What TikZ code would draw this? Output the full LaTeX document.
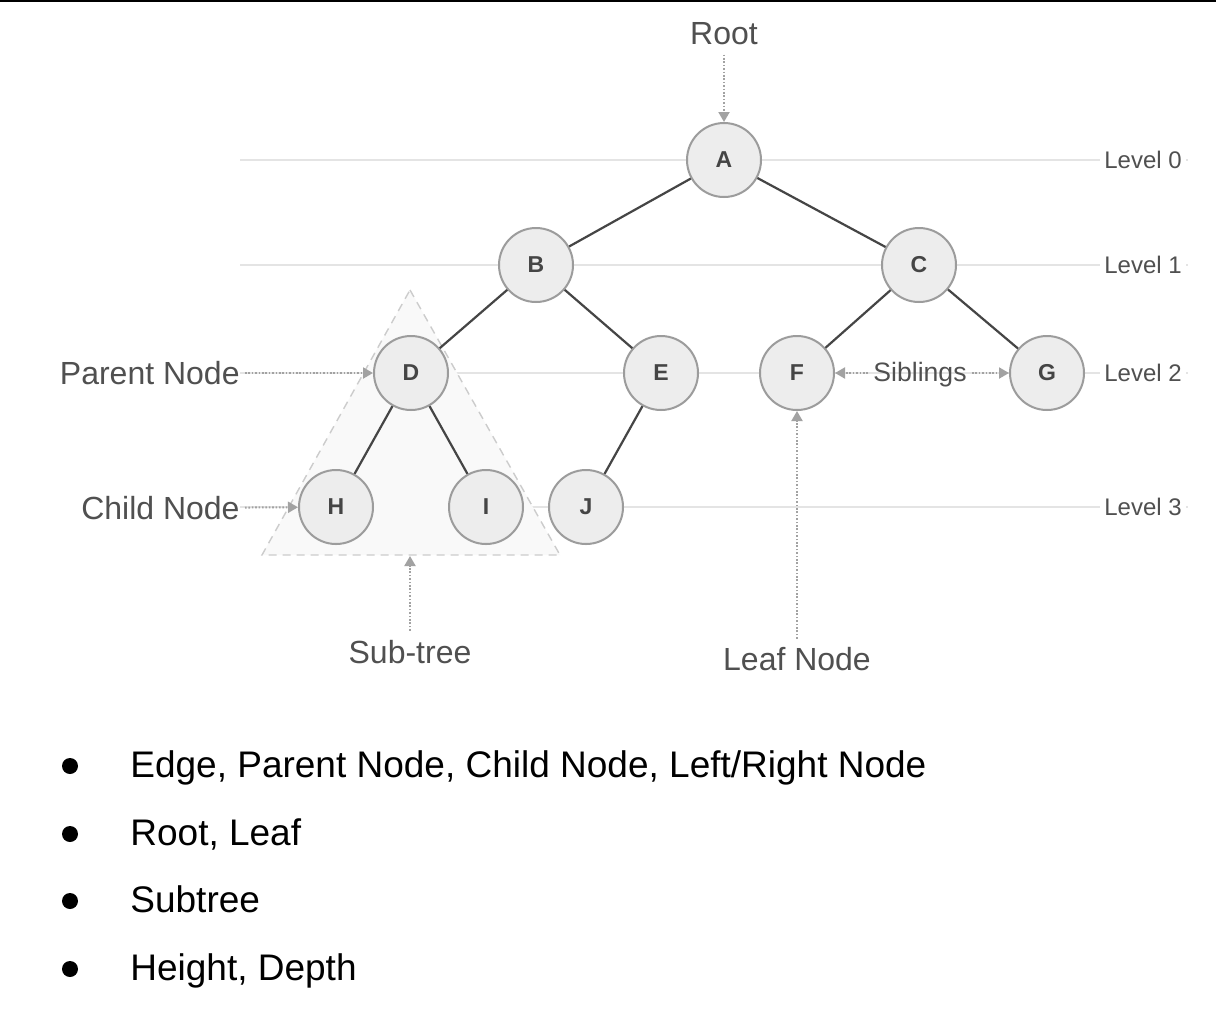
\documentclass[tikz,border=0pt]{standalone}
\usepackage{fontspec}
\setmainfont{Liberation Sans}
\usetikzlibrary{arrows.meta}

\definecolor{edgegray}{HTML}{454545}
\definecolor{ringgray}{HTML}{9C9C9C}
\definecolor{nodefill}{HTML}{EDEDED}
\definecolor{labelgray}{HTML}{505050}
\definecolor{levelgray}{HTML}{E4E4E4}
\definecolor{pointgray}{HTML}{A2A2A2}

\begin{document}
\begin{tikzpicture}[x=0.5pt, y=-0.5pt,
    treenode/.style={circle, draw=ringgray, line width=1pt, fill=nodefill,
      minimum size=37pt, inner sep=0pt, text=edgegray,
      font=\fontsize{11.5}{13}\selectfont\bfseries},
    branch/.style={draw=edgegray, line width=1.1pt},
    levelline/.style={draw=levelgray, line width=0.6pt},
    levellabel/.style={fill=white, inner sep=2pt, text=labelgray,
      font=\fontsize{12}{14}\selectfont},
    callout/.style={text=labelgray, inner sep=0pt, font=\fontsize{16}{18}\selectfont},
    pointer/.style={draw=pointgray, line width=1pt, dash pattern=on 0.8pt off 0.9pt,
      shorten <=2.5pt, -{Triangle[length=5pt, width=5.5pt]}},
    bulletdot/.style={circle, fill=black, minimum size=8pt, inner sep=0pt},
    bullettext/.style={anchor=base west, inner sep=0pt, font=\fontsize{18.5}{22}\selectfont}]

  % Page
  \useasboundingbox (0,0) rectangle (1216,1008);
  \fill[white] (0,0) rectangle (1216,1008);
  \draw[black, line width=1pt] (0,1) -- (1216,1);

  % Levels
  \foreach \yy/\lv in {160/0, 265/1, 373/2, 507/3} {
    \draw[levelline] (240,\yy) -- (1188,\yy);
    \node[levellabel] (level\lv) at (1143,\yy) {Level \lv};
  }

  % Sub-tree (triangle round D, H and I)
  \draw[draw=gray!40, fill=gray!5, line width=0.7pt, dash pattern=on 4pt off 3pt]
    (410,290) -- (560,555) -- (262,555) -- cycle;
  \coordinate (subtreetip) at (410,556);

  % Tree nodes
  \node[treenode] (A) at (724,160) {A};
  \node[treenode] (B) at (536,265) {B};
  \node[treenode] (C) at (919,265) {C};
  \node[treenode] (D) at (411,373) {D};
  \node[treenode] (E) at (661,373) {E};
  \node[treenode] (F) at (797,373) {F};
  \node[treenode] (G) at (1047,373) {G};
  \node[treenode] (H) at (336,507) {H};
  \node[treenode] (I) at (486,507) {I};
  \node[treenode] (J) at (586,507) {J};

  % Edges
  \draw[branch] (A) -- (B);
  \draw[branch] (A) -- (C);
  \draw[branch] (B) -- (D);
  \draw[branch] (B) -- (E);
  \draw[branch] (C) -- (F);
  \draw[branch] (C) -- (G);
  \draw[branch] (D) -- (H);
  \draw[branch] (D) -- (I);
  \draw[branch] (E) -- (J);

  % Callouts
  \node[callout] (rootlbl) at (724,34) {Root};
  \node[callout, anchor=east] (parentlbl) at (240,373) {Parent Node};
  \node[callout, anchor=east] (childlbl) at (240,508) {Child Node};
  \node[callout] (subtreelbl) at (410,652) {Sub-tree};
  \node[callout] (leaflbl) at (797,659) {Leaf Node};
  \node[callout, anchor=base, font=\fontsize{13.3}{15}\selectfont] (siblingslbl) at (920,381) {Siblings};

  \draw[pointer, shorten <=4.5pt] (rootlbl) -- (A);
  \draw[pointer] (parentlbl) -- (D);
  \draw[pointer] (childlbl) -- (H);
  \draw[pointer, shorten <=4.5pt] (subtreelbl) -- (subtreetip);
  \draw[pointer, shorten <=4pt] (leaflbl) -- (F);
  \draw[pointer] (siblingslbl.west |- F) -- (F);
  \draw[pointer] (siblingslbl.east |- G) -- (G);

  % Bullet list
  \node[bulletdot] (dot1) at (70,766) {};
  \node[bulletdot] (dot2) at (70,834) {};
  \node[bulletdot] (dot3) at (70,901) {};
  \node[bulletdot] (dot4) at (70,969) {};
  \node[bullettext] (item1) at (130,777) {Edge, Parent Node, Child Node, Left/Right Node};
  \node[bullettext] (item2) at (130,845) {Root, Leaf};
  \node[bullettext] (item3) at (130,912) {Subtree};
  \node[bullettext] (item4) at (130,980) {Height, Depth};
\end{tikzpicture}
\end{document}
